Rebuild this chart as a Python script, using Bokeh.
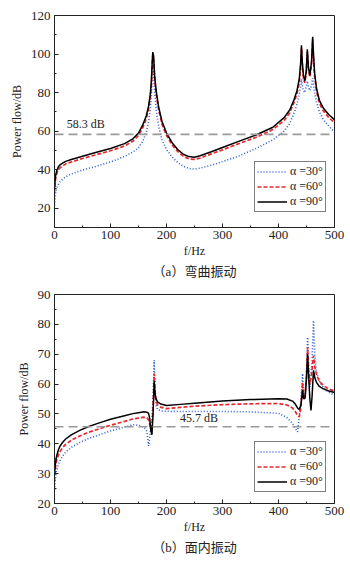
from bokeh.plotting import figure
from bokeh.layouts import column
from bokeh.models import Span, Label, Title, FixedTicker, Legend, LegendItem, ColumnDataSource
from bokeh.embed import file_html
from bokeh.resources import INLINE

SERIF = "Liberation Serif, Noto Sans CJK SC"

# ---------------- (a) bending vibration ----------------
f_a = [0, 1, 2, 4, 7, 10, 15, 20, 30, 50, 75, 100, 125, 140, 150, 158, 164, 168, 171, 173,
       174.5, 175.5, 177, 179, 182, 186, 192, 200, 210, 220, 230, 240, 250, 260, 280, 300,
       330, 360, 390, 410, 420, 428, 433, 437, 439.5, 441, 442.5, 444.5, 447, 449.5, 451.5,
       453.5, 456, 459, 461, 462.5, 464.5, 468, 473, 480, 490, 500]
a90 = [30, 34, 37, 39.5, 41.5, 42.5, 43.5, 44.3, 45.3, 47, 49, 51, 53.5, 56, 59, 63.5, 68, 73, 79, 86,
       96, 101, 99, 88, 80, 72.5, 65, 59, 54, 50.5, 48, 46.8, 46.5, 47.2, 49.3, 51.5,
       54.8, 58, 62, 67, 71, 76.5, 81, 87, 95, 104.5, 96, 89, 86, 91, 102.5,
       93, 89, 96, 109, 100, 90, 82, 76, 72, 68.5, 66]
a60 = [28, 32.5, 35.5, 38, 40, 41, 42, 43, 44, 45.8, 47.8, 49.8, 52.3, 54.8, 57.8, 62, 66.5, 71.5, 77.5, 84,
       94, 99.5, 97, 86, 78.5, 71, 63.5, 57.8, 52.8, 49.4, 47, 45.6, 45.3, 46, 48.2, 50.3,
       53.6, 56.8, 60.8, 65.5, 69.5, 75, 79.5, 85, 93, 103, 94, 87.5, 85, 90, 101,
       92, 88, 95, 107.5, 98, 88.5, 80.5, 74.5, 70.5, 67, 64.5]
a30 = [21.5, 25, 28, 30.5, 32.5, 33.8, 35.2, 36.3, 37.8, 39.8, 41.8, 44, 46.8, 49.2, 51.3, 55, 59.5, 65, 71, 79,
       88, 94, 92, 80, 70, 62.5, 55.5, 50.5, 46.5, 43.8, 41.8, 40.6, 40.3, 40.8, 42.3, 44.2,
       47.2, 51, 55.5, 60, 64, 69.5, 74, 79, 83, 87, 84, 81, 80, 83, 86,
       83, 81, 84, 87.5, 84, 80, 75, 70, 66, 62.5, 59.5]
ref_a = 58.3

# ---------------- (b) in-plane vibration ----------------
f_b = [0, 1, 2, 4, 7, 10, 15, 20, 30, 45, 60, 80, 100, 125, 140, 150, 160, 165, 168, 170,
       172, 174, 176, 178, 179.5, 181, 184, 190, 200, 225, 250, 300, 350, 400, 415, 425,
       430, 434, 437, 440, 443, 445, 447.5, 450, 452, 454, 456, 458, 460, 462.5, 465, 468,
       473, 480, 490, 500]
b90 = [29.5, 32, 34, 36, 38, 39.3, 40.6, 41.6, 43, 44.5, 45.7, 47, 48.2, 49.4, 50.1, 50.4, 50.7, 50.6, 50.2, 48.5,
       44.5, 43, 50, 61, 57, 55.2, 54, 53.3, 52.8, 53.2, 53.6, 54.3, 54.8, 55.1, 55, 54.3,
       53.3, 52, 51.5, 53, 58, 55, 55.5, 62, 70, 62, 55, 51.2, 56, 64.6, 62, 60.5,
       59.2, 58.4, 57.7, 57.2]
b60 = [27.5, 30.5, 32.5, 34.5, 36.3, 37.5, 38.8, 39.8, 41.2, 42.6, 43.8, 45, 46.2, 47.5, 48.3, 48.6, 48.9, 48.7, 48, 46.5,
       45, 46, 52, 63.5, 58, 54.5, 53, 52.2, 51.8, 52.2, 52.6, 53.1, 53.4, 53.5, 53, 52,
       50.8, 49.5, 49, 52, 60.5, 55, 56, 63, 72.4, 64, 60, 62, 65, 69.5, 65.5, 63,
       61, 59.5, 58.3, 57.7]
b30 = [24.5, 27, 29, 31.2, 33.2, 34.5, 36, 37.2, 38.8, 40.4, 41.7, 43, 44.3, 45.6, 46.4, 46.2, 45.6, 44.2, 39.3, 42,
       46, 48, 55, 68, 58, 53, 51.5, 51, 50.9, 50.8, 50.8, 50.8, 50.7, 50.2, 48.8, 46.8,
       45.2, 44, 49, 54, 63.5, 56, 55, 64, 75.7, 64, 59, 63, 68, 81.3, 69, 64,
       61, 58.8, 57.2, 56.3]
ref_b = 45.7

labels = ["\u03b1 =30\u00b0", "\u03b1 =60\u00b0", "\u03b1 =90\u00b0"]
x_ticks = [0, 100, 200, 300, 400, 500]
y_ticks_a = [20, 40, 60, 80, 100, 120]
y_ticks_b = [20, 30, 40, 50, 60, 70, 80, 90]


def make_panel(f, s30, s60, s90, ref, yr, yt, yminor, xminor, caption, ref_x, ref_y,
               top, bottom, legend_xy):
    p = figure(width=350, height=282, x_range=(0, 500), y_range=yr,
               output_backend="svg", toolbar_location=None,
               min_border_left=54, min_border_right=16,
               min_border_top=top, min_border_bottom=bottom)
    p.background_fill_color = "white"
    p.border_fill_color = "white"
    p.xgrid.visible = False
    p.ygrid.visible = False
    p.outline_line_color = "#222222"
    p.outline_line_width = 1

    src = ColumnDataSource(dict(f=f, s30=s30, s60=s60, s90=s90))
    span = Span(location=ref, dimension="width", line_color="#9a9a9a",
                line_dash="9 5", line_width=1.6)
    p.add_layout(span)
    r30 = p.line("f", "s30", source=src, line_color="#2f5fd0", line_width=1.6, line_dash="1 2")
    r60 = p.line("f", "s60", source=src, line_color="#e8282e", line_width=1.7, line_dash="4 2")
    r90 = p.line("f", "s90", source=src, line_color="black", line_width=1.5)

    p.add_layout(Label(x=ref_x, y=ref_y, text=f"{ref} dB", text_font=SERIF,
                       text_font_size="12px", text_color="#222222", text_baseline="bottom"))

    for ax in (p.xaxis[0], p.yaxis[0]):
        ax.major_label_text_font = SERIF
        ax.major_label_text_font_size = "13px"
        ax.major_label_text_color = "#222222"
        ax.axis_label_text_font = SERIF
        ax.axis_label_text_font_size = "12px"
        ax.axis_label_text_font_style = "normal"
        ax.axis_label_text_color = "#222222"
        ax.major_tick_in = 4
        ax.major_tick_out = 0
        ax.minor_tick_in = 2
        ax.minor_tick_out = 0
        ax.axis_line_color = "#222222"
        ax.major_tick_line_color = "#222222"
        ax.minor_tick_line_color = "#222222"
    p.xaxis[0].ticker = FixedTicker(ticks=x_ticks, minor_ticks=xminor)
    p.yaxis[0].ticker = FixedTicker(ticks=yt, minor_ticks=yminor)
    p.xaxis[0].axis_label = "f/Hz"
    p.yaxis[0].axis_label = "Power flow/dB"
    p.xaxis[0].major_label_standoff = 3
    p.xaxis[0].axis_label_standoff = 2
    p.yaxis[0].major_label_standoff = 4
    p.yaxis[0].axis_label_standoff = 4

    legend = Legend(items=[LegendItem(label=labels[0], renderers=[r30]),
                           LegendItem(label=labels[1], renderers=[r60]),
                           LegendItem(label=labels[2], renderers=[r90])],
                    location=legend_xy)
    legend.label_text_font = SERIF
    legend.label_text_font_size = "12px"
    legend.label_text_color = "#222222"
    legend.border_line_color = "black"
    legend.border_line_width = 1
    legend.padding = 2
    legend.spacing = 0
    legend.margin = 0
    legend.glyph_width = 30
    legend.glyph_height = 11
    legend.label_height = 11
    legend.label_standoff = 3
    legend.background_fill_alpha = 1
    p.add_layout(legend, "center")

    p.add_layout(Title(text=caption, text_font=SERIF, text_font_size="13px",
                       text_font_style="normal", text_color="#222222", align="center",
                       standoff=2), "below")
    return p


pa = make_panel(f_a, a30, a60, a90, ref_a, (10, 120), y_ticks_a,
                [10, 30, 50, 70, 90, 110], [50, 150, 250, 350, 450],
                "\uff08a\uff09弯曲振动", 22, 60.3, 15, 55, (200, 15))
pb = make_panel(f_b, b30, b60, b90, ref_b, (20, 90), y_ticks_b,
                [25, 35, 45, 55, 65, 75, 85], [50, 150, 250, 350, 450],
                "\uff08b\uff09面内振动", 224, 46.4, 12, 61, (200, 11))

layout = column(pa, pb, spacing=0)
open("out.html", "w").write(file_html(layout, INLINE))
